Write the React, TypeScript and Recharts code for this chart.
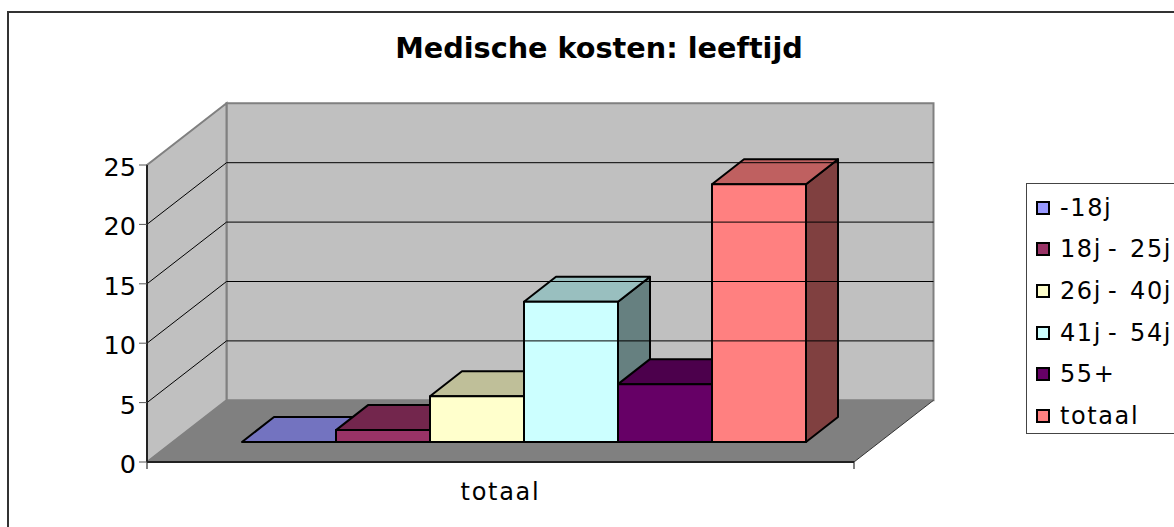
import { BarChart, Bar, XAxis, YAxis, Legend, ReferenceArea, ReferenceLine } from 'recharts';

const categories = ['totaal'];
const seriesNames = ['-18j', '18j -  25j', '26j -  40j', '41j -  54j', '55+', 'totaal'];
const seriesValues = [0, 1, 3.85, 11.8, 4.87, 21.7];
const seriesColors = ['#9999FF', '#993366', '#FFFFCC', '#CCFFFF', '#660066', '#FF8080'];
const topColors = ['#7373C0', '#73264D', '#BFBF99', '#99BFBF', '#4C004C', '#BF6060'];
const sideColors = ['#4D4D80', '#4D1933', '#808066', '#668080', '#330033', '#804040'];
const yTicks = [0, 5, 10, 15, 20, 25];
const gridValues = [5, 10, 15, 20];

const FONT = '"DejaVu Sans", Verdana, sans-serif';

// depth of the walls and of the bars
const WALL_DX = 79.5;
const WALL_DY = 61.7;
const BAR_DX = 32;
const BAR_DY = 25;
const BAR_SHIFT_X = 23.5;
const BAR_SHIFT_Y = 20;

const chartData = categories.map((category) => {
  const row: Record<string, string | number> = { category };
  seriesNames.forEach((name, i) => {
    row[name] = seriesValues[i];
  });
  return row;
});

function Walls(props: any) {
  const { x, y, width, height } = props;
  const bottom = y + height;
  const right = x + width;
  return (
    <g>
      <polygon
        points={`${x + WALL_DX},${y - WALL_DY} ${right + WALL_DX},${y - WALL_DY} ${right + WALL_DX},${bottom - WALL_DY} ${x + WALL_DX},${bottom - WALL_DY}`}
        fill="#C0C0C0"
        stroke="#808080"
        strokeWidth={2}
      />
      <polygon
        points={`${x},${y} ${x + WALL_DX},${y - WALL_DY} ${x + WALL_DX},${bottom - WALL_DY} ${x},${bottom}`}
        fill="#C0C0C0"
        stroke="#808080"
        strokeWidth={2}
      />
      <polygon
        points={`${x},${bottom} ${right},${bottom} ${right + WALL_DX},${bottom - WALL_DY} ${x + WALL_DX},${bottom - WALL_DY}`}
        fill="#808080"
      />
      <line x1={right} y1={bottom} x2={right + WALL_DX} y2={bottom - WALL_DY} stroke="#333" strokeWidth={1} />
      <line x1={right} y1={bottom} x2={right} y2={bottom + 7} stroke="#808080" strokeWidth={2} />
      <line x1={x} y1={bottom} x2={x} y2={bottom + 7} stroke="#808080" strokeWidth={2} />
    </g>
  );
}

function GridLine(props: any) {
  const { x1, x2, y1 } = props;
  return (
    <polyline
      points={`${x1},${y1} ${x1 + WALL_DX},${y1 - WALL_DY} ${x2 + WALL_DX},${y1 - WALL_DY}`}
      fill="none"
      stroke="#000"
      strokeWidth={1}
    />
  );
}

function Bar3D(props: any) {
  const { x, y, width, height, seriesIndex } = props;
  const left = x + BAR_SHIFT_X;
  const right = left + width;
  const top = y - BAR_SHIFT_Y;
  const bottom = top + height;
  const line = { stroke: '#000', strokeWidth: 2, strokeLinejoin: 'round' as const };
  return (
    <g>
      <polygon
        points={`${right},${top} ${right + BAR_DX},${top - BAR_DY} ${right + BAR_DX},${bottom - BAR_DY} ${right},${bottom}`}
        fill={sideColors[seriesIndex]}
        {...line}
      />
      <polygon
        points={`${left},${top} ${left + BAR_DX},${top - BAR_DY} ${right + BAR_DX},${top - BAR_DY} ${right},${top}`}
        fill={topColors[seriesIndex]}
        {...line}
      />
      <rect x={left} y={top} width={width} height={height} fill={seriesColors[seriesIndex]} {...line} />
    </g>
  );
}

function LegendBox({ payload }: any) {
  return (
    <div
      style={{
        width: 180,
        height: 251,
        boxSizing: 'border-box',
        background: '#fff',
        border: '1px solid #444',
        fontFamily: FONT,
        fontSize: 24,
        letterSpacing: 1.6,
        wordSpacing: -3.3,
        color: '#000',
        paddingTop: 3,
      }}
    >
      {(payload || []).map((item: any) => (
        <div key={item.value} style={{ display: 'flex', alignItems: 'center', height: 41.6, whiteSpace: 'pre' }}>
          <span
            style={{
              width: 14,
              height: 14,
              marginLeft: 9,
              marginRight: 10,
              boxSizing: 'border-box',
              border: '2px solid #000',
              background: item.color,
              flex: 'none',
            }}
          />
          {item.value}
        </div>
      ))}
    </div>
  );
}

export default function App() {
  return (
    <div style={{ position: 'absolute', left: 0, top: 0, width: 1174, height: 527, overflow: 'hidden', background: '#fff' }}>
      <div style={{ position: 'absolute', left: 7, top: 11, width: 1400, height: 800, border: '2px solid #333' }} />
      <div
        style={{
          position: 'absolute',
          left: 299,
          top: 31,
          width: 600,
          textAlign: 'center',
          fontFamily: FONT,
          fontWeight: 700,
          fontSize: 28.7,
          whiteSpace: 'nowrap',
          color: '#000',
        }}
      >
        Medische kosten: leeftijd
      </div>
      <div style={{ position: 'absolute', left: 0, top: 0 }}>
        <BarChart
          width={1174}
          height={527}
          data={chartData}
          margin={{ top: 165, right: 320, bottom: 0, left: 87 }}
          barCategoryGap={71.5}
          barGap={0}
        >
          <ReferenceArea y1={0} y2={25} shape={<Walls />} ifOverflow="visible" />
          {gridValues.map((v) => (
            <ReferenceLine key={v} y={v} shape={<GridLine />} ifOverflow="visible" />
          ))}
          <XAxis
            dataKey="category"
            height={65}
            axisLine={{ stroke: '#222', strokeWidth: 2 }}
            tickLine={false}
            tickMargin={15}
            tick={{ fill: '#000', fontSize: 24, fontFamily: FONT, letterSpacing: 1.7 }}
          />
          <YAxis
            width={60}
            domain={[0, 25]}
            ticks={yTicks}
            tickSize={8}
            tickMargin={3}
            axisLine={{ stroke: '#222', strokeWidth: 2 }}
            tickLine={{ stroke: '#555' }}
            tick={{ fill: '#000', fontSize: 25.5, fontFamily: FONT, dy: 2 }}
          />
          {seriesNames.map((name, i) => (
            <Bar
              key={name}
              dataKey={name}
              name={name}
              fill={seriesColors[i]}
              isAnimationActive={false}
              shape={(p: any) => <Bar3D {...p} seriesIndex={i} />}
            />
          ))}
          <Legend
            layout="vertical"
            align="center"
            verticalAlign="middle"
            itemSorter={null}
            wrapperStyle={{ left: 1026, top: 183, width: 180, height: 251, margin: 0 }}
            content={<LegendBox />}
          />
        </BarChart>
      </div>
    </div>
  );
}
